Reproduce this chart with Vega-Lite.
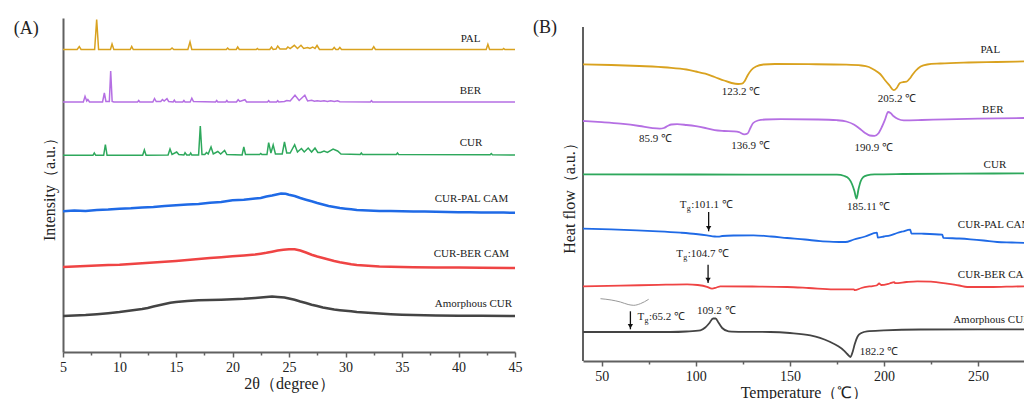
{
"$schema": "https://vega.github.io/schema/vega-lite/v6.json",
"padding": {"left": 13, "top": 16, "right": 0, "bottom": 0},
"config": {
 "font": "Liberation Serif",
 "view": {"stroke": null},
 "concat": {"spacing": 10},
 "axis": {"grid": false, "domainColor": "#606060", "domainWidth": 2, "tickColor": "#606060", "tickWidth": 1.5, "labelFont": "Liberation Serif", "labelFontSize": 14, "labelColor": "#222", "titleFont": "Liberation Serif", "titleFontSize": 16, "titleFontWeight": "normal", "titleColor": "#222"}
},
"datasets": {
 "xrd": [
  {"s":"PAL","x":5,"v":302.5},{"s":"PAL","x":6.25,"v":302.5},{"s":"PAL","x":6.44,"v":305.5},{"s":"PAL","x":6.6,"v":302.5},
  {"s":"PAL","x":7.8,"v":302.5},{"s":"PAL","x":7.98,"v":332.5},{"s":"PAL","x":8.15,"v":302.5},
  {"s":"PAL","x":9.2,"v":302.5},{"s":"PAL","x":9.34,"v":308},{"s":"PAL","x":9.5,"v":302.5},
  {"s":"PAL","x":10.95,"v":302.5},{"s":"PAL","x":11.08,"v":305.5},{"s":"PAL","x":11.22,"v":302.5},
  {"s":"PAL","x":14.5,"v":302.5},{"s":"PAL","x":14.65,"v":304},{"s":"PAL","x":14.8,"v":302.5},
  {"s":"PAL","x":16.05,"v":302.5},{"s":"PAL","x":16.24,"v":310},{"s":"PAL","x":16.4,"v":302.5},
  {"s":"PAL","x":19.45,"v":302.5},{"s":"PAL","x":19.57,"v":304},{"s":"PAL","x":19.7,"v":302.5},
  {"s":"PAL","x":20.33,"v":302.5},{"s":"PAL","x":20.46,"v":305},{"s":"PAL","x":20.6,"v":302.5},
  {"s":"PAL","x":22.1,"v":302.5},{"s":"PAL","x":22.2,"v":303.5},{"s":"PAL","x":22.3,"v":302.5},
  {"s":"PAL","x":23.3,"v":302.5},{"s":"PAL","x":23.45,"v":305},{"s":"PAL","x":23.6,"v":302.5},
  {"s":"PAL","x":23.85,"v":303},{"s":"PAL","x":24.0,"v":306},{"s":"PAL","x":24.2,"v":303},
  {"s":"PAL","x":24.75,"v":303},{"s":"PAL","x":24.9,"v":305},{"s":"PAL","x":25.1,"v":303.5},
  {"s":"PAL","x":25.47,"v":306.7},{"s":"PAL","x":25.75,"v":303.5},{"s":"PAL","x":26.06,"v":306.7},{"s":"PAL","x":26.3,"v":303.5},
  {"s":"PAL","x":26.65,"v":304.5},{"s":"PAL","x":26.85,"v":303.5},{"s":"PAL","x":27.1,"v":305},{"s":"PAL","x":27.3,"v":303.5},{"s":"PAL","x":27.48,"v":306.5},{"s":"PAL","x":27.7,"v":302.5},
  {"s":"PAL","x":28.85,"v":302.5},{"s":"PAL","x":29.0,"v":304.5},{"s":"PAL","x":29.15,"v":302.5},{"s":"PAL","x":29.35,"v":302.5},{"s":"PAL","x":29.5,"v":304.5},{"s":"PAL","x":29.65,"v":302.5},
  {"s":"PAL","x":32.35,"v":302.5},{"s":"PAL","x":32.5,"v":305.3},{"s":"PAL","x":32.65,"v":302.5},
  {"s":"PAL","x":42.45,"v":302.5},{"s":"PAL","x":42.6,"v":307.7},{"s":"PAL","x":42.75,"v":302.5},
  {"s":"PAL","x":43.9,"v":302.5},{"s":"PAL","x":44.0,"v":303.5},{"s":"PAL","x":44.1,"v":302.5},{"s":"PAL","x":45,"v":302.5},

  {"s":"BER","x":5,"v":250},{"s":"BER","x":6.8,"v":250},{"s":"BER","x":6.95,"v":255.7},{"s":"BER","x":7.1,"v":251},{"s":"BER","x":7.2,"v":252.5},{"s":"BER","x":7.35,"v":250},
  {"s":"BER","x":8.5,"v":250},{"s":"BER","x":8.66,"v":259},{"s":"BER","x":8.8,"v":250.5},{"s":"BER","x":9.1,"v":250.5},{"s":"BER","x":9.22,"v":281},{"s":"BER","x":9.35,"v":250.5},{"s":"BER","x":9.5,"v":250},
  {"s":"BER","x":11.6,"v":250},{"s":"BER","x":11.7,"v":251.5},{"s":"BER","x":11.8,"v":250},
  {"s":"BER","x":12.95,"v":250},{"s":"BER","x":13.1,"v":253.5},{"s":"BER","x":13.25,"v":250.5},
  {"s":"BER","x":13.65,"v":250.5},{"s":"BER","x":13.8,"v":252.5},{"s":"BER","x":13.95,"v":251},{"s":"BER","x":14.2,"v":253.3},{"s":"BER","x":14.35,"v":250.5},
  {"s":"BER","x":14.75,"v":250},{"s":"BER","x":14.85,"v":251.8},{"s":"BER","x":14.95,"v":250},
  {"s":"BER","x":15.6,"v":250},{"s":"BER","x":15.7,"v":251.5},{"s":"BER","x":15.8,"v":250},
  {"s":"BER","x":16.25,"v":250},{"s":"BER","x":16.4,"v":253.7},{"s":"BER","x":16.55,"v":250.5},
  {"s":"BER","x":18.5,"v":250},{"s":"BER","x":18.6,"v":251.5},{"s":"BER","x":18.7,"v":250},
  {"s":"BER","x":19.4,"v":250},{"s":"BER","x":19.5,"v":251.5},{"s":"BER","x":19.6,"v":250},
  {"s":"BER","x":20.35,"v":250},{"s":"BER","x":20.5,"v":252.3},{"s":"BER","x":20.65,"v":250.5},{"s":"BER","x":21.1,"v":252.3},{"s":"BER","x":21.25,"v":250},
  {"s":"BER","x":23.1,"v":250},{"s":"BER","x":23.2,"v":251.3},{"s":"BER","x":23.3,"v":250},
  {"s":"BER","x":23.9,"v":250},{"s":"BER","x":24.0,"v":251.3},{"s":"BER","x":24.1,"v":250},
  {"s":"BER","x":24.6,"v":250.5},{"s":"BER","x":24.8,"v":251.5},{"s":"BER","x":25.1,"v":251},{"s":"BER","x":25.53,"v":256.7},{"s":"BER","x":25.9,"v":251.5},{"s":"BER","x":26.4,"v":256.7},{"s":"BER","x":26.65,"v":251},
  {"s":"BER","x":27.0,"v":251.7},{"s":"BER","x":27.25,"v":250.7},{"s":"BER","x":27.5,"v":251.3},{"s":"BER","x":27.8,"v":250.7},{"s":"BER","x":28.1,"v":251.3},{"s":"BER","x":28.4,"v":250.5},{"s":"BER","x":28.7,"v":251.3},{"s":"BER","x":29.0,"v":250.5},{"s":"BER","x":29.3,"v":251.3},{"s":"BER","x":29.5,"v":250.3},
  {"s":"BER","x":32.2,"v":250},{"s":"BER","x":32.3,"v":251.3},{"s":"BER","x":32.4,"v":250},{"s":"BER","x":45,"v":250},

  {"s":"CUR","x":5,"v":196.7},{"s":"CUR","x":7.65,"v":196.7},{"s":"CUR","x":7.77,"v":199},{"s":"CUR","x":7.9,"v":196.7},
  {"s":"CUR","x":8.6,"v":196.7},{"s":"CUR","x":8.75,"v":207.5},{"s":"CUR","x":8.9,"v":196.7},
  {"s":"CUR","x":12.05,"v":196.7},{"s":"CUR","x":12.2,"v":202},{"s":"CUR","x":12.35,"v":196.7},
  {"s":"CUR","x":14.3,"v":197},{"s":"CUR","x":14.47,"v":203},{"s":"CUR","x":14.65,"v":197.5},{"s":"CUR","x":15.06,"v":200},{"s":"CUR","x":15.25,"v":197.5},
  {"s":"CUR","x":15.7,"v":197},{"s":"CUR","x":15.8,"v":199.3},{"s":"CUR","x":15.95,"v":197},
  {"s":"CUR","x":16.2,"v":197},{"s":"CUR","x":16.3,"v":199},{"s":"CUR","x":16.4,"v":197},
  {"s":"CUR","x":17.0,"v":197},{"s":"CUR","x":17.15,"v":226},{"s":"CUR","x":17.3,"v":197.5},{"s":"CUR","x":17.55,"v":197.5},{"s":"CUR","x":17.7,"v":199.5},{"s":"CUR","x":17.85,"v":198},{"s":"CUR","x":18.1,"v":205},{"s":"CUR","x":18.3,"v":198},{"s":"CUR","x":18.7,"v":200.5},{"s":"CUR","x":18.95,"v":198},{"s":"CUR","x":19.3,"v":201.5},{"s":"CUR","x":19.5,"v":197.5},
  {"s":"CUR","x":20.85,"v":197},{"s":"CUR","x":21.0,"v":205},{"s":"CUR","x":21.15,"v":197.5},
  {"s":"CUR","x":22.4,"v":197.5},{"s":"CUR","x":22.5,"v":198.5},{"s":"CUR","x":22.6,"v":197.5},
  {"s":"CUR","x":23.05,"v":197.5},{"s":"CUR","x":23.2,"v":209.3},{"s":"CUR","x":23.4,"v":199},{"s":"CUR","x":23.6,"v":207},{"s":"CUR","x":23.8,"v":198},
  {"s":"CUR","x":24.4,"v":198},{"s":"CUR","x":24.6,"v":210},{"s":"CUR","x":24.8,"v":199},{"s":"CUR","x":25.1,"v":199},{"s":"CUR","x":25.5,"v":207.3},{"s":"CUR","x":25.75,"v":200},{"s":"CUR","x":26.1,"v":203.5},{"s":"CUR","x":26.35,"v":200},{"s":"CUR","x":26.7,"v":204},{"s":"CUR","x":27.0,"v":200},{"s":"CUR","x":27.3,"v":204},{"s":"CUR","x":27.55,"v":199.5},{"s":"CUR","x":27.8,"v":199.5},{"s":"CUR","x":28.1,"v":201},{"s":"CUR","x":28.4,"v":199.5},{"s":"CUR","x":28.9,"v":203},{"s":"CUR","x":29.3,"v":201},{"s":"CUR","x":29.6,"v":198},
  {"s":"CUR","x":31.3,"v":197.5},{"s":"CUR","x":31.4,"v":199},{"s":"CUR","x":31.5,"v":197.5},
  {"s":"CUR","x":34.5,"v":197.5},{"s":"CUR","x":34.6,"v":199},{"s":"CUR","x":34.7,"v":197.5},
  {"s":"CUR","x":42.8,"v":197.3},{"s":"CUR","x":42.9,"v":198.5},{"s":"CUR","x":43.0,"v":197.3},{"s":"CUR","x":45,"v":197},

  {"s":"CUR-PAL CAM","x":5,"v":140.7},{"s":"CUR-PAL CAM","x":6,"v":141.5},{"s":"CUR-PAL CAM","x":7,"v":141.1},{"s":"CUR-PAL CAM","x":8,"v":142},{"s":"CUR-PAL CAM","x":9,"v":142.4},{"s":"CUR-PAL CAM","x":10,"v":143.3},{"s":"CUR-PAL CAM","x":11,"v":143.7},{"s":"CUR-PAL CAM","x":12,"v":144.6},{"s":"CUR-PAL CAM","x":13,"v":145},{"s":"CUR-PAL CAM","x":14,"v":146},{"s":"CUR-PAL CAM","x":15,"v":146.7},{"s":"CUR-PAL CAM","x":16,"v":147.5},{"s":"CUR-PAL CAM","x":17,"v":148},{"s":"CUR-PAL CAM","x":18,"v":149.2},{"s":"CUR-PAL CAM","x":19,"v":150},{"s":"CUR-PAL CAM","x":20,"v":151.7},{"s":"CUR-PAL CAM","x":21,"v":152.3},{"s":"CUR-PAL CAM","x":22,"v":153.5},{"s":"CUR-PAL CAM","x":22.5,"v":154},{"s":"CUR-PAL CAM","x":23,"v":155.5},{"s":"CUR-PAL CAM","x":23.5,"v":156.5},{"s":"CUR-PAL CAM","x":24,"v":157.8},{"s":"CUR-PAL CAM","x":24.3,"v":158.5},{"s":"CUR-PAL CAM","x":24.7,"v":158.2},{"s":"CUR-PAL CAM","x":25,"v":157.3},{"s":"CUR-PAL CAM","x":25.5,"v":156},{"s":"CUR-PAL CAM","x":26,"v":154},{"s":"CUR-PAL CAM","x":26.5,"v":152.3},{"s":"CUR-PAL CAM","x":27,"v":150.7},{"s":"CUR-PAL CAM","x":27.5,"v":149},{"s":"CUR-PAL CAM","x":28,"v":147.5},{"s":"CUR-PAL CAM","x":28.5,"v":146},{"s":"CUR-PAL CAM","x":29,"v":145},{"s":"CUR-PAL CAM","x":29.5,"v":144},{"s":"CUR-PAL CAM","x":30,"v":143.3},{"s":"CUR-PAL CAM","x":30.5,"v":142.7},{"s":"CUR-PAL CAM","x":31,"v":142},{"s":"CUR-PAL CAM","x":32,"v":141.5},{"s":"CUR-PAL CAM","x":33,"v":141},{"s":"CUR-PAL CAM","x":34,"v":140.9},{"s":"CUR-PAL CAM","x":35,"v":140.7},{"s":"CUR-PAL CAM","x":36,"v":140.5},{"s":"CUR-PAL CAM","x":37,"v":140.4},{"s":"CUR-PAL CAM","x":38,"v":140.2},{"s":"CUR-PAL CAM","x":39,"v":140},{"s":"CUR-PAL CAM","x":40,"v":139.8},{"s":"CUR-PAL CAM","x":41,"v":139.8},{"s":"CUR-PAL CAM","x":42,"v":139.6},{"s":"CUR-PAL CAM","x":43,"v":139.5},{"s":"CUR-PAL CAM","x":44,"v":139.4},{"s":"CUR-PAL CAM","x":45,"v":139.3},

  {"s":"CUR-BER CAM","x":5,"v":85},{"s":"CUR-BER CAM","x":6,"v":85.5},{"s":"CUR-BER CAM","x":7,"v":86},{"s":"CUR-BER CAM","x":8,"v":86.5},{"s":"CUR-BER CAM","x":9,"v":86.9},{"s":"CUR-BER CAM","x":10,"v":87.3},{"s":"CUR-BER CAM","x":11,"v":88},{"s":"CUR-BER CAM","x":12,"v":88.7},{"s":"CUR-BER CAM","x":13,"v":89.5},{"s":"CUR-BER CAM","x":14,"v":90.2},{"s":"CUR-BER CAM","x":15,"v":91},{"s":"CUR-BER CAM","x":16,"v":92},{"s":"CUR-BER CAM","x":17,"v":93},{"s":"CUR-BER CAM","x":18,"v":94},{"s":"CUR-BER CAM","x":19,"v":94.8},{"s":"CUR-BER CAM","x":20,"v":95.7},{"s":"CUR-BER CAM","x":21,"v":96.5},{"s":"CUR-BER CAM","x":22,"v":97.5},{"s":"CUR-BER CAM","x":22.5,"v":98.3},{"s":"CUR-BER CAM","x":23,"v":99.2},{"s":"CUR-BER CAM","x":23.5,"v":100.3},{"s":"CUR-BER CAM","x":24,"v":101.5},{"s":"CUR-BER CAM","x":24.5,"v":102.3},{"s":"CUR-BER CAM","x":25,"v":102.7},{"s":"CUR-BER CAM","x":25.5,"v":102.8},{"s":"CUR-BER CAM","x":26,"v":101.5},{"s":"CUR-BER CAM","x":26.5,"v":99.5},{"s":"CUR-BER CAM","x":27,"v":97.3},{"s":"CUR-BER CAM","x":27.5,"v":95.5},{"s":"CUR-BER CAM","x":28,"v":94},{"s":"CUR-BER CAM","x":28.5,"v":92.5},{"s":"CUR-BER CAM","x":29,"v":91},{"s":"CUR-BER CAM","x":29.5,"v":89.8},{"s":"CUR-BER CAM","x":30,"v":88.8},{"s":"CUR-BER CAM","x":30.5,"v":87.7},{"s":"CUR-BER CAM","x":31,"v":87},{"s":"CUR-BER CAM","x":32,"v":86.2},{"s":"CUR-BER CAM","x":33,"v":85.6},{"s":"CUR-BER CAM","x":34,"v":85.3},{"s":"CUR-BER CAM","x":35,"v":85},{"s":"CUR-BER CAM","x":36,"v":84.8},{"s":"CUR-BER CAM","x":38,"v":84.6},{"s":"CUR-BER CAM","x":40,"v":84.4},{"s":"CUR-BER CAM","x":42,"v":84.2},{"s":"CUR-BER CAM","x":45,"v":84},

  {"s":"Amorphous CUR","x":5,"v":36},{"s":"Amorphous CUR","x":6,"v":36.5},{"s":"Amorphous CUR","x":7,"v":37},{"s":"Amorphous CUR","x":8,"v":37.8},{"s":"Amorphous CUR","x":9,"v":38.8},{"s":"Amorphous CUR","x":10,"v":40},{"s":"Amorphous CUR","x":11,"v":41.5},{"s":"Amorphous CUR","x":12,"v":43},{"s":"Amorphous CUR","x":12.5,"v":44},{"s":"Amorphous CUR","x":13,"v":45.5},{"s":"Amorphous CUR","x":14,"v":48},{"s":"Amorphous CUR","x":14.5,"v":49.3},{"s":"Amorphous CUR","x":15,"v":50},{"s":"Amorphous CUR","x":16,"v":51},{"s":"Amorphous CUR","x":17,"v":51.7},{"s":"Amorphous CUR","x":18,"v":52},{"s":"Amorphous CUR","x":19,"v":52.3},{"s":"Amorphous CUR","x":20,"v":52.7},{"s":"Amorphous CUR","x":21,"v":53.2},{"s":"Amorphous CUR","x":22,"v":54},{"s":"Amorphous CUR","x":23,"v":55},{"s":"Amorphous CUR","x":23.5,"v":55.5},{"s":"Amorphous CUR","x":24,"v":55},{"s":"Amorphous CUR","x":24.6,"v":54.5},{"s":"Amorphous CUR","x":25,"v":53.5},{"s":"Amorphous CUR","x":25.5,"v":52.2},{"s":"Amorphous CUR","x":26,"v":50.5},{"s":"Amorphous CUR","x":26.5,"v":49},{"s":"Amorphous CUR","x":27,"v":47.3},{"s":"Amorphous CUR","x":27.5,"v":46},{"s":"Amorphous CUR","x":28,"v":44.5},{"s":"Amorphous CUR","x":28.5,"v":43.5},{"s":"Amorphous CUR","x":29,"v":42.5},{"s":"Amorphous CUR","x":29.5,"v":41.8},{"s":"Amorphous CUR","x":30,"v":41.2},{"s":"Amorphous CUR","x":30.5,"v":40.7},{"s":"Amorphous CUR","x":31,"v":40},{"s":"Amorphous CUR","x":32,"v":39.2},{"s":"Amorphous CUR","x":33,"v":38.5},{"s":"Amorphous CUR","x":34,"v":37.8},{"s":"Amorphous CUR","x":35,"v":37.3},{"s":"Amorphous CUR","x":36,"v":37},{"s":"Amorphous CUR","x":38,"v":36.6},{"s":"Amorphous CUR","x":40,"v":36.3},{"s":"Amorphous CUR","x":42,"v":36.2},{"s":"Amorphous CUR","x":45,"v":36}
 ],
 "dsc": [
  {"s":"PAL","x":40,"v":296.7},{"s":"PAL","x":55,"v":296},{"s":"PAL","x":70,"v":295},{"s":"PAL","x":85,"v":293.5},{"s":"PAL","x":95,"v":291.5},{"s":"PAL","x":100,"v":289.5},{"s":"PAL","x":105,"v":287.3},{"s":"PAL","x":110,"v":284},{"s":"PAL","x":115,"v":280.5},{"s":"PAL","x":119,"v":278},{"s":"PAL","x":122.5,"v":277},{"s":"PAL","x":124.5,"v":277.3},{"s":"PAL","x":126,"v":280},{"s":"PAL","x":127.5,"v":285.5},{"s":"PAL","x":129.5,"v":291},{"s":"PAL","x":132,"v":294.5},{"s":"PAL","x":136,"v":296.5},{"s":"PAL","x":142,"v":297},{"s":"PAL","x":160,"v":296.8},{"s":"PAL","x":180,"v":296.3},{"s":"PAL","x":188,"v":295.5},{"s":"PAL","x":192,"v":294},{"s":"PAL","x":195,"v":291},{"s":"PAL","x":198,"v":287},{"s":"PAL","x":200.5,"v":281},{"s":"PAL","x":203,"v":275.5},{"s":"PAL","x":205.2,"v":270.8},{"s":"PAL","x":206.8,"v":273},{"s":"PAL","x":208.5,"v":278},{"s":"PAL","x":210.5,"v":279},{"s":"PAL","x":212,"v":279.3},{"s":"PAL","x":213.5,"v":282},{"s":"PAL","x":215,"v":285.7},{"s":"PAL","x":217,"v":290.5},{"s":"PAL","x":219.5,"v":294.5},{"s":"PAL","x":223,"v":296.5},{"s":"PAL","x":230,"v":297.5},{"s":"PAL","x":245,"v":298.5},{"s":"PAL","x":260,"v":299},{"s":"PAL","x":275,"v":299.7},

  {"s":"BER","x":40,"v":240},{"s":"BER","x":50,"v":238.8},{"s":"BER","x":60,"v":237.3},{"s":"BER","x":70,"v":235},{"s":"BER","x":77,"v":232.8},{"s":"BER","x":80.8,"v":232.3},{"s":"BER","x":83,"v":233},{"s":"BER","x":85,"v":235},{"s":"BER","x":87,"v":236.5},{"s":"BER","x":90,"v":236.8},{"s":"BER","x":95,"v":236},{"s":"BER","x":100,"v":234.8},{"s":"BER","x":105,"v":233},{"s":"BER","x":110,"v":230.8},{"s":"BER","x":115,"v":230},{"s":"BER","x":120,"v":229.6},{"s":"BER","x":123,"v":228.8},{"s":"BER","x":125.8,"v":226.7},{"s":"BER","x":127.5,"v":227.5},{"s":"BER","x":129,"v":233},{"s":"BER","x":130.5,"v":238},{"s":"BER","x":133,"v":240.5},{"s":"BER","x":137,"v":241.5},{"s":"BER","x":145,"v":241.8},{"s":"BER","x":165,"v":241.5},{"s":"BER","x":175,"v":240.8},{"s":"BER","x":180,"v":239.5},{"s":"BER","x":184,"v":236.5},{"s":"BER","x":187,"v":232.5},{"s":"BER","x":190,"v":228},{"s":"BER","x":192.5,"v":225.5},{"s":"BER","x":195,"v":225.2},{"s":"BER","x":197,"v":227.5},{"s":"BER","x":199,"v":234.5},{"s":"BER","x":200.7,"v":242},{"s":"BER","x":202.2,"v":249},{"s":"BER","x":203.5,"v":248},{"s":"BER","x":205.2,"v":244.7},{"s":"BER","x":207.5,"v":242},{"s":"BER","x":210.5,"v":240.7},{"s":"BER","x":220,"v":241},{"s":"BER","x":233,"v":241.7},{"s":"BER","x":250,"v":242.3},{"s":"BER","x":275,"v":243},

  {"s":"CUR","x":40,"v":186.7},{"s":"CUR","x":100,"v":186.5},{"s":"CUR","x":150,"v":186.3},{"s":"CUR","x":175,"v":186.3},{"s":"CUR","x":179,"v":185},{"s":"CUR","x":181.5,"v":182},{"s":"CUR","x":183,"v":177},{"s":"CUR","x":184.3,"v":170},{"s":"CUR","x":185.4,"v":162.3},{"s":"CUR","x":186.5,"v":172},{"s":"CUR","x":187.7,"v":180},{"s":"CUR","x":189,"v":183.8},{"s":"CUR","x":191,"v":185.7},{"s":"CUR","x":195,"v":186.6},{"s":"CUR","x":210,"v":187},{"s":"CUR","x":240,"v":187.3},{"s":"CUR","x":275,"v":187.7},

  {"s":"CUR-PAL CAM","x":40,"v":132.3},{"s":"CUR-PAL CAM","x":55,"v":131.6},{"s":"CUR-PAL CAM","x":68.7,"v":130.7},{"s":"CUR-PAL CAM","x":80,"v":129.7},{"s":"CUR-PAL CAM","x":91.8,"v":128.3},{"s":"CUR-PAL CAM","x":100,"v":127},{"s":"CUR-PAL CAM","x":105.9,"v":125.7},{"s":"CUR-PAL CAM","x":110,"v":124.5},{"s":"CUR-PAL CAM","x":112,"v":124.3},{"s":"CUR-PAL CAM","x":114,"v":125},{"s":"CUR-PAL CAM","x":120,"v":125.5},{"s":"CUR-PAL CAM","x":130.7,"v":125.7},{"s":"CUR-PAL CAM","x":140,"v":124.5},{"s":"CUR-PAL CAM","x":148.5,"v":123},{"s":"CUR-PAL CAM","x":158,"v":121.5},{"s":"CUR-PAL CAM","x":166.2,"v":119.8},{"s":"CUR-PAL CAM","x":173,"v":119.2},{"s":"CUR-PAL CAM","x":179.5,"v":119},{"s":"CUR-PAL CAM","x":184,"v":121.5},{"s":"CUR-PAL CAM","x":190,"v":124.5},{"s":"CUR-PAL CAM","x":196.3,"v":128.3},{"s":"CUR-PAL CAM","x":196.7,"v":123.5},{"s":"CUR-PAL CAM","x":200,"v":124.5},{"s":"CUR-PAL CAM","x":203.4,"v":125.7},{"s":"CUR-PAL CAM","x":207,"v":128},{"s":"CUR-PAL CAM","x":210,"v":129.5},{"s":"CUR-PAL CAM","x":214,"v":131.3},{"s":"CUR-PAL CAM","x":214.6,"v":127.5},{"s":"CUR-PAL CAM","x":220,"v":127.3},{"s":"CUR-PAL CAM","x":231,"v":126.3},{"s":"CUR-PAL CAM","x":231.6,"v":123.2},{"s":"CUR-PAL CAM","x":240,"v":122.5},{"s":"CUR-PAL CAM","x":246,"v":121.7},{"s":"CUR-PAL CAM","x":253,"v":120.5},{"s":"CUR-PAL CAM","x":260.2,"v":119},{"s":"CUR-PAL CAM","x":268,"v":118.5},{"s":"CUR-PAL CAM","x":275,"v":118},

  {"s":"CUR-BER CAM","x":40,"v":74.7},{"s":"CUR-BER CAM","x":60,"v":75.3},{"s":"CUR-BER CAM","x":80,"v":76.2},{"s":"CUR-BER CAM","x":95.3,"v":76.7},{"s":"CUR-BER CAM","x":101,"v":76},{"s":"CUR-BER CAM","x":105.9,"v":74.2},{"s":"CUR-BER CAM","x":108.6,"v":72.3},{"s":"CUR-BER CAM","x":111,"v":73.5},{"s":"CUR-BER CAM","x":113,"v":74.7},{"s":"CUR-BER CAM","x":130,"v":74.5},{"s":"CUR-BER CAM","x":148.5,"v":74},{"s":"CUR-BER CAM","x":160,"v":73},{"s":"CUR-BER CAM","x":173.3,"v":71.7},{"s":"CUR-BER CAM","x":180,"v":71.6},{"s":"CUR-BER CAM","x":184,"v":71.7},{"s":"CUR-BER CAM","x":184.5,"v":70.8},{"s":"CUR-BER CAM","x":188,"v":73},{"s":"CUR-BER CAM","x":192.8,"v":74.7},{"s":"CUR-BER CAM","x":196,"v":75.5},{"s":"CUR-BER CAM","x":197.5,"v":77.5},{"s":"CUR-BER CAM","x":198.5,"v":76},{"s":"CUR-BER CAM","x":203,"v":77.5},{"s":"CUR-BER CAM","x":205.5,"v":78.8},{"s":"CUR-BER CAM","x":206,"v":77.8},{"s":"CUR-BER CAM","x":212,"v":79},{"s":"CUR-BER CAM","x":217.7,"v":79.7},{"s":"CUR-BER CAM","x":225,"v":79.3},{"s":"CUR-BER CAM","x":233.6,"v":77.3},{"s":"CUR-BER CAM","x":240,"v":75.5},{"s":"CUR-BER CAM","x":244.3,"v":74},{"s":"CUR-BER CAM","x":255,"v":74},{"s":"CUR-BER CAM","x":265,"v":74.3},{"s":"CUR-BER CAM","x":275,"v":74.7},

  {"s":"Amorphous CUR","x":40,"v":29},{"s":"Amorphous CUR","x":60,"v":29},{"s":"Amorphous CUR","x":86.4,"v":29},{"s":"Amorphous CUR","x":95,"v":29.5},{"s":"Amorphous CUR","x":102.4,"v":30.7},{"s":"Amorphous CUR","x":105,"v":33.5},{"s":"Amorphous CUR","x":107,"v":37.5},{"s":"Amorphous CUR","x":109.2,"v":42.5},{"s":"Amorphous CUR","x":110.5,"v":42.5},{"s":"Amorphous CUR","x":112,"v":38.5},{"s":"Amorphous CUR","x":114,"v":33},{"s":"Amorphous CUR","x":117.4,"v":29.7},{"s":"Amorphous CUR","x":125,"v":29.2},{"s":"Amorphous CUR","x":139.6,"v":29},{"s":"Amorphous CUR","x":150,"v":28},{"s":"Amorphous CUR","x":160.9,"v":25.7},{"s":"Amorphous CUR","x":166,"v":23.2},{"s":"Amorphous CUR","x":171.5,"v":19},{"s":"Amorphous CUR","x":175.5,"v":15},{"s":"Amorphous CUR","x":178.6,"v":10.7},{"s":"Amorphous CUR","x":180.5,"v":7},{"s":"Amorphous CUR","x":182.2,"v":4},{"s":"Amorphous CUR","x":183.5,"v":10},{"s":"Amorphous CUR","x":184.5,"v":17},{"s":"Amorphous CUR","x":186,"v":24.5},{"s":"Amorphous CUR","x":188,"v":28},{"s":"Amorphous CUR","x":191,"v":29.7},{"s":"Amorphous CUR","x":200,"v":30.6},{"s":"Amorphous CUR","x":219.4,"v":31.5},{"s":"Amorphous CUR","x":250,"v":31.7},{"s":"Amorphous CUR","x":275,"v":31.7}
 ],
 "labelsA": [
  {"x":40.2,"v":313,"t":"PAL"},{"x":40.1,"v":261,"t":"BER"},{"x":40.1,"v":209,"t":"CUR"},
  {"x":37.9,"v":153,"t":"CUR-PAL CAM"},{"x":37.8,"v":97.7,"t":"CUR-BER CAM"},{"x":37.9,"v":47.7,"t":"Amorphous CUR"}
 ],
 "labelsB": [
  {"x":251.3,"v":311.3,"t":"PAL"},{"x":252.2,"v":250.7,"t":"BER"},{"x":253,"v":195.7,"t":"CUR"},
  {"x":239.3,"v":135.7,"t":"CUR-PAL CAM"},{"x":239.3,"v":85.7,"t":"CUR-BER CAM"},{"x":236.8,"v":40.7,"t":"Amorphous CUR"}
 ],
 "annB": [
  {"x":124,"v":269,"t":"123.2 ℃"},{"x":207,"v":262.3,"t":"205.2 ℃"},{"x":78.5,"v":221.7,"t":"85.9 ℃"},
  {"x":129,"v":215,"t":"136.9 ℃"},{"x":194.6,"v":213.3,"t":"190.9 ℃"},{"x":191.9,"v":154,"t":"185.11 ℃"},
  {"x":110.9,"v":49.7,"t":"109.2 ℃"},{"x":197.4,"v":9,"t":"182.2 ℃"}
 ],
 "tg": [
  {"x":91.4,"v":155.7,"t":":101.1 ℃"},{"x":89.6,"v":107.3,"t":":104.7 ℃"},{"x":69,"v":44,"t":":65.2 ℃"}
 ],
 "arrows": [
  {"x":106.8,"v":149,"v2":129.7},{"x":106.5,"v":96.3,"v2":78},{"x":65.2,"v":49.7,"v2":31.7}
 ],
 "inset": [
  {"x":49.3,"v":62.3},{"x":55,"v":61},{"x":59.9,"v":59},{"x":64,"v":56.5},{"x":67,"v":55.7},{"x":70.5,"v":57.3},{"x":74.9,"v":61.7}
 ],
 "yaxisB": [{"x":40,"v":0,"v2":334}]
},
"hconcat": [
 {
  "width": 452, "height": 334,
  "encoding": {
   "x": {"field": "x", "type": "quantitative", "scale": {"domain": [5, 45], "nice": false, "zero": false},
    "axis": {"values": [5,7.5,10,12.5,15,17.5,20,22.5,25,27.5,30,32.5,35,37.5,40,42.5,45],
     "labelExpr": "datum.value % 5 === 0 ? datum.label : ''", "labelFlush": false, "labelOverlap": false,
     "tickSize": {"condition": {"test": "datum.value % 5 === 0", "value": 5}, "value": 3},
     "labelPadding": 3, "title": "2θ（degree）", "titlePadding": 1}},
   "y": {"field": "v", "type": "quantitative", "scale": {"domain": [0, 334], "nice": false},
    "axis": {"labels": false, "ticks": false, "title": "Intensity（a.u.）", "titlePadding": 6}}
  },
  "layer": [
   {"data": {"name": "xrd"}, "transform": [{"filter": {"field": "s", "oneOf": ["PAL","BER","CUR"]}}],
    "mark": {"type": "line", "strokeWidth": 1.5},
    "encoding": {"color": {"field": "s", "type": "nominal", "legend": null,
     "scale": {"domain": ["PAL","BER","CUR","CUR-PAL CAM","CUR-BER CAM","Amorphous CUR"], "range": ["#D9A21F","#B56FE3","#2EA85C","#1F6AE6","#EF4444","#444444"]}}}},
   {"data": {"name": "xrd"}, "transform": [{"filter": {"field": "s", "oneOf": ["CUR-PAL CAM","CUR-BER CAM","Amorphous CUR"]}}],
    "mark": {"type": "line", "strokeWidth": 2.5},
    "encoding": {"color": {"field": "s", "type": "nominal", "legend": null,
     "scale": {"domain": ["PAL","BER","CUR","CUR-PAL CAM","CUR-BER CAM","Amorphous CUR"], "range": ["#D9A21F","#B56FE3","#2EA85C","#1F6AE6","#EF4444","#444444"]}}}},
   {"data": {"name": "labelsA"}, "mark": {"type": "text", "align": "left", "baseline": "middle", "fontSize": 11, "color": "#222"},
    "encoding": {"text": {"field": "t"}}},
   {"data": {"values": [{"x": 0.64, "v": 323.3, "t": "(A)"}]}, "mark": {"type": "text", "align": "left", "baseline": "middle", "fontSize": 18, "color": "#222"},
    "encoding": {"text": {"field": "t"}}}
  ]
 },
 {
  "width": 442, "height": 343,
  "encoding": {
   "x": {"field": "x", "type": "quantitative", "scale": {"domain": [40, 275], "nice": false, "zero": false},
    "axis": {"values": [50,75,100,125,150,175,200,225,250,275],
     "labelExpr": "datum.value % 50 === 0 ? datum.label : ''", "labelFlush": false, "labelOverlap": false,
     "tickSize": {"condition": {"test": "datum.value % 50 === 0", "value": 5}, "value": 3},
     "labelPadding": 3, "title": "Temperature（℃）", "titlePadding": 1}},
   "y": {"field": "v", "type": "quantitative", "scale": {"domain": [0, 343], "nice": false},
    "axis": {"labels": false, "ticks": false, "domain": false, "title": "Heat flow（a.u.）", "titlePadding": 6, "titleY": 176}}
  },
  "layer": [
   {"data": {"name": "yaxisB"}, "mark": {"type": "rule", "strokeWidth": 2, "color": "#606060"},
    "encoding": {"y2": {"field": "v2"}}},
   {"data": {"name": "dsc"}, "mark": {"type": "line", "strokeWidth": 1.8, "interpolate": "monotone", "clip": true},
    "encoding": {"color": {"field": "s", "type": "nominal", "legend": null,
     "scale": {"domain": ["PAL","BER","CUR","CUR-PAL CAM","CUR-BER CAM","Amorphous CUR"], "range": ["#D9A21F","#B56FE3","#2EA85C","#1F6AE6","#EF4444","#444444"]}}}},
   {"data": {"name": "inset"}, "mark": {"type": "line", "strokeWidth": 1, "color": "#999", "interpolate": "monotone"}, "encoding": {}},
   {"data": {"name": "arrows"}, "mark": {"type": "rule", "strokeWidth": 1.3, "color": "#111"},
    "encoding": {"y2": {"field": "v2"}}},
   {"data": {"name": "arrows"}, "mark": {"type": "point", "shape": "triangle-down", "filled": true, "size": 28, "color": "#111", "opacity": 1, "yOffset": -3},
    "encoding": {"y": {"field": "v2", "type": "quantitative"}}},
   {"data": {"name": "annB"}, "mark": {"type": "text", "align": "center", "baseline": "middle", "fontSize": 11, "color": "#222"},
    "encoding": {"text": {"field": "t"}}},
   {"data": {"name": "tg"}, "mark": {"type": "text", "align": "left", "baseline": "middle", "fontSize": 11, "color": "#222"},
    "encoding": {"text": {"value": "T"}}},
   {"data": {"name": "tg"}, "mark": {"type": "text", "align": "left", "baseline": "middle", "fontSize": 8, "color": "#222", "dx": 7, "dy": 4},
    "encoding": {"text": {"value": "g"}}},
   {"data": {"name": "tg"}, "mark": {"type": "text", "align": "left", "baseline": "middle", "fontSize": 11, "color": "#222", "dx": 11.5},
    "encoding": {"text": {"field": "t"}}},
   {"data": {"name": "labelsB"}, "mark": {"type": "text", "align": "left", "baseline": "middle", "fontSize": 11, "color": "#222", "clip": true},
    "encoding": {"text": {"field": "t"}}},
   {"data": {"values": [{"x": 13.4, "v": 333, "t": "(B)"}]}, "mark": {"type": "text", "align": "left", "baseline": "middle", "fontSize": 18, "color": "#222"},
    "encoding": {"text": {"field": "t"}}}
  ]
 }
]
}
